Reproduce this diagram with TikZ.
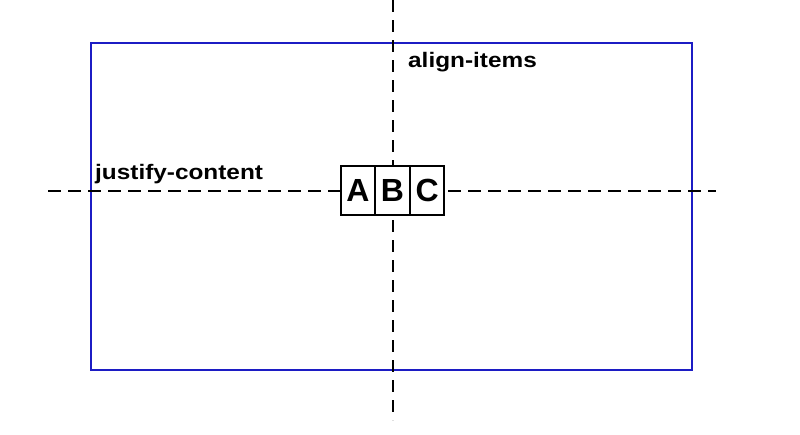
\documentclass[tikz,border=0pt]{standalone}
\usepackage{graphicx}
\usepackage{fontspec}
\setmainfont{Liberation Sans}
\usetikzlibrary{positioning}
\definecolor{flexblue}{RGB}{28,28,196}

\begin{document}
\begin{tikzpicture}[x=1pt, y=-1pt,
	container/.style={draw=flexblue, line width=2.5pt},
	axisline/.style={black, line width=2.6pt},
	item/.style={draw, fill=white, line width=1.2pt, minimum width=33.5pt, minimum height=49pt, inner sep=0pt, font=\fontsize{32}{32}\selectfont\bfseries},
	axislabel/.style={anchor=base west, inner sep=0pt, font=\fontsize{21}{21}\selectfont\bfseries}]
	\useasboundingbox (0,0) rectangle (800,434);
	\draw[container] (91,43) rectangle (692,370);
	\coordinate (vtop) at (393,0);
	\coordinate (vbot) at (393,420);
	\coordinate (hleft) at (48,191);
	\coordinate (hright) at (716,191);
	\draw[axisline, dash pattern=on 12pt off 8pt] (vtop) -- (vbot);
	\draw[axisline, dash pattern=on 13pt off 7pt] (hleft) -- (hright);
	\node[item] (b) at (392.5,190.5) {B};
	\node[item, left=0pt of b] (a) {A};
	\node[item, right=0pt of b] (c) {C};
	\node[axislabel] (jc) at (95,179) {\scalebox{1.16}[1]{justify-content}};
	\node[axislabel] (ai) at (408,67) {\scalebox{1.16}[1]{align-items}};
\end{tikzpicture}
\end{document}
